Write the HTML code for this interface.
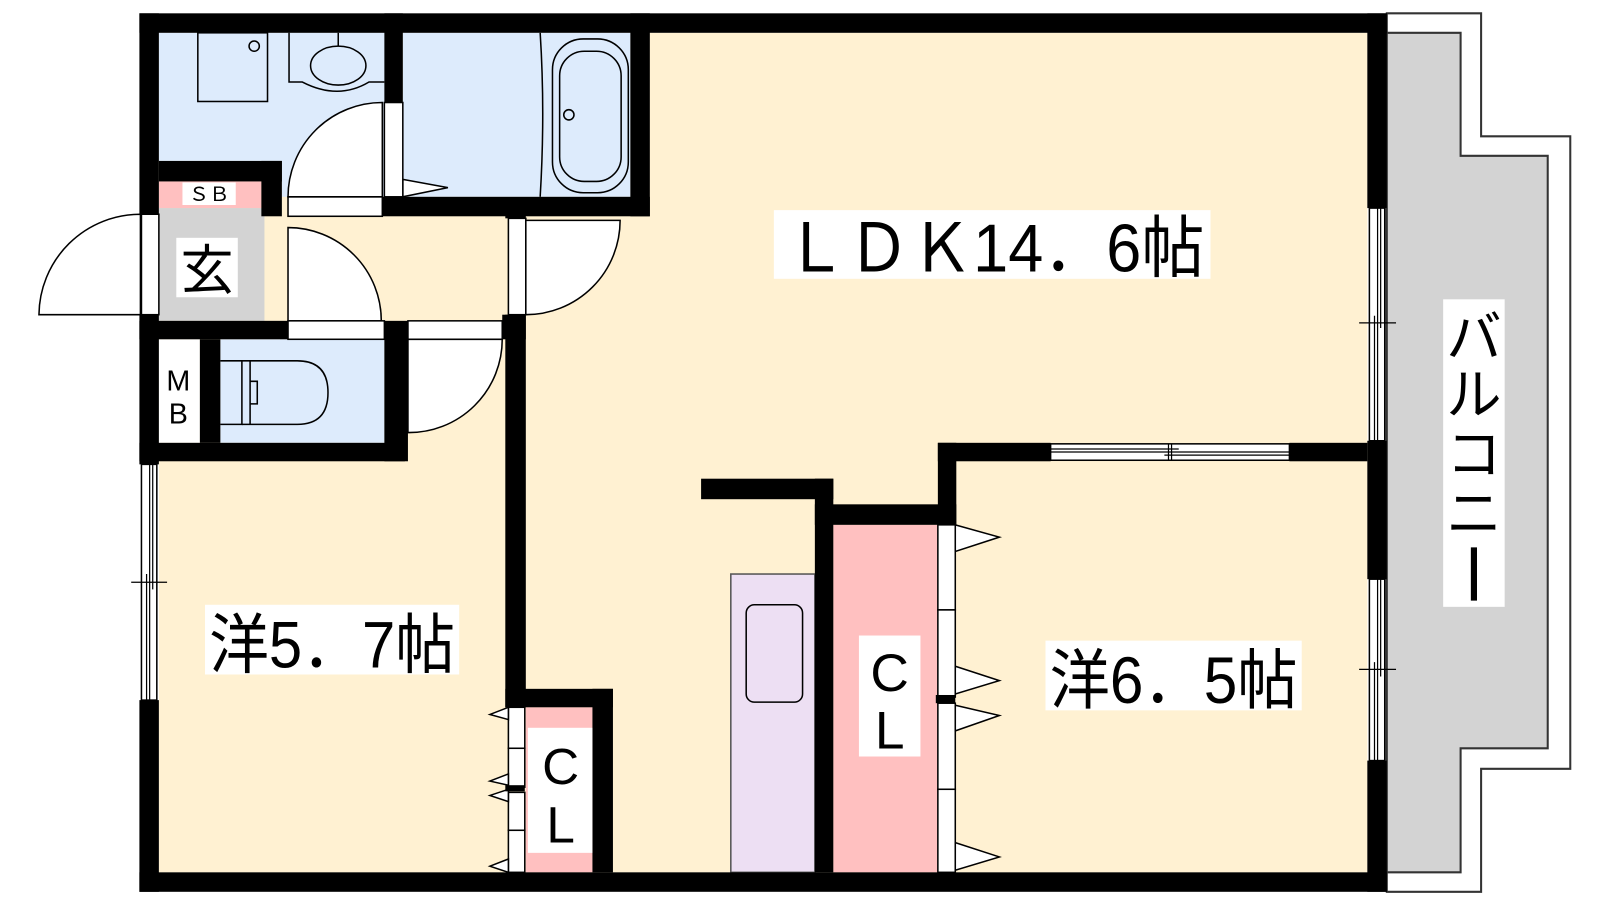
<!DOCTYPE html>
<html><head><meta charset="utf-8"><style>
html,body{margin:0;padding:0;background:#fff;}
svg{display:block;}
text{font-family:"Liberation Sans","Noto Sans CJK JP",sans-serif;}
</style></head><body>
<svg width="1600" height="900" viewBox="0 0 1561 878" preserveAspectRatio="none" xmlns="http://www.w3.org/2000/svg">
<rect width="1561" height="878" fill="#fff"/>
<!-- balcony -->
<polygon points="1353,13 1445,13 1445,133 1532,133 1532,750 1445,750 1445,870 1353,870" fill="#fff" stroke="#333" stroke-width="2"/>
<polygon points="1353,32 1425,32 1425,152 1510,152 1510,730 1425,730 1425,851 1353,851" fill="#d3d3d3" stroke="#333" stroke-width="2"/>
<!-- floor fills -->
<rect x="155" y="32" width="1179" height="819" fill="#fff1d2"/>
<rect x="155" y="32" width="220" height="125" fill="#ddebfc"/>
<rect x="275" y="32" width="100" height="160" fill="#ddebfc"/>
<rect x="393" y="32" width="222" height="160" fill="#ddebfc"/>
<rect x="155" y="177" width="100" height="26" fill="#ffc0c0"/>
<rect x="155" y="203" width="103" height="110" fill="#d3d3d3"/>
<rect x="155" y="331" width="40" height="101" fill="#fff"/>
<rect x="215" y="331" width="160" height="101" fill="#ddebfc"/>
<rect x="813" y="512" width="102" height="339" fill="#ffc0c0"/>
<rect x="513" y="690" width="65" height="161" fill="#ffc0c0"/>
<rect x="713" y="560" width="82" height="291" fill="#eddff3" stroke="#555" stroke-width="1.5"/>
<rect x="728" y="590" width="55" height="95" rx="8" fill="none" stroke="#000" stroke-width="1.5"/>

<!-- fixtures wash -->
<g fill="none" stroke="#000" stroke-width="1.5">
<rect x="193" y="32" width="68" height="67"/>
<circle cx="248" cy="45" r="5"/>
<path d="M282,32 V80 H295 Q330,98 360,80 H375"/>
<ellipse cx="330" cy="64" rx="27" ry="19"/>
<path d="M330,32 V45"/>
<!-- bathtub -->
<path d="M527,32 Q532,110 527,192"/>
<rect x="539" y="38" width="74" height="150" rx="30"/>
<rect x="546" y="50" width="60" height="127" rx="24"/>
<circle cx="555" cy="112" r="5"/>
<!-- toilet -->
<path d="M215,352 H236 V414 H215"/>
<path d="M236,352 H290 Q320,352 320,383 Q320,414 290,414 H236"/>
<path d="M244,352 V414 M244,372 H251 V394 H244"/>
</g>
<!-- triangle in bath -->
<polygon points="393,175 437,183 393,192" fill="#fff" stroke="#000" stroke-width="1.5"/>

<!-- doors -->
<g fill="#fff" stroke="#000" stroke-width="1.5">
<rect x="375" y="100" width="18" height="92"/>
<rect x="281" y="192" width="92" height="19"/>
<path d="M373,192 V100 A92,92 0 0 0 281,192 Z"/>
<rect x="138" y="209" width="17" height="98"/>
<path d="M137,307 H38 A99,99 0 0 1 137,209 Z"/>
<path d="M281,313 V222 A91,91 0 0 1 372,313 Z"/>
<rect x="281" y="313" width="94" height="18"/>
<rect x="398" y="313" width="92" height="18"/>
<path d="M398,331 V422 A91,91 0 0 0 490,331 Z"/>
<rect x="496" y="213" width="17" height="94"/>
<path d="M513,215 H605 A92,92 0 0 1 513,307 Z"/>
<!-- windows -->
<rect x="138" y="453" width="15" height="230"/>
<rect x="1336" y="203" width="15" height="227"/>
<rect x="1336" y="565" width="15" height="177"/>
<rect x="1025" y="433" width="233" height="16"/>
<!-- CL strips -->
<rect x="915" y="512" width="17" height="83"/>
<rect x="915" y="595" width="17" height="85"/>
<rect x="915" y="686" width="17" height="84"/>
<rect x="915" y="770" width="17" height="81"/>
<rect x="496" y="690" width="16" height="40"/>
<rect x="496" y="730" width="16" height="38"/>
<rect x="496" y="773" width="16" height="37"/>
<rect x="496" y="810" width="16" height="41"/>
<polygon points="932,512 975,524 932,538"/>
<polygon points="932,650 975,664 932,677"/>
<polygon points="932,688 975,698 932,713"/>
<polygon points="932,822 975,836 932,849"/>
<polygon points="496,690 478,697 496,702"/>
<polygon points="496,755 478,762 496,766"/>
<polygon points="496,770 478,776 496,782"/>
<polygon points="496,838 478,845 496,851"/>
</g>
<!-- window lines -->
<g stroke="#000" stroke-width="1.2" fill="none">
<path d="M146,453 V683 M143,560 V683 M149,453 V575 M128,568 H163"/>
<path d="M1344,203 V430 M1341,308 V430 M1347,203 V320 M1326,315 H1362"/>
<path d="M1344,565 V742 M1341,646 V742 M1347,565 V660 M1326,653 H1362"/>
<path d="M1025,441 H1258 M1025,438 H1150 M1136,444 H1258 M1143,433 V449 M1140,433 V449"/>
</g>

<!-- walls -->
<g fill="#000">
<rect x="136" y="13" width="1217" height="19"/>
<rect x="136" y="851" width="1217" height="19"/>
<rect x="136" y="13" width="19" height="196"/>
<rect x="136" y="307" width="19" height="146"/>
<rect x="136" y="683" width="19" height="187"/>
<rect x="1334" y="13" width="19" height="190"/>
<rect x="1334" y="430" width="19" height="135"/>
<rect x="1334" y="742" width="19" height="128"/>
<rect x="375" y="13" width="18" height="87"/>
<rect x="615" y="13" width="19" height="198"/>
<rect x="373" y="192" width="261" height="19"/>
<rect x="155" y="157" width="120" height="20"/>
<rect x="255" y="157" width="20" height="54"/>
<rect x="136" y="313" width="145" height="18"/>
<rect x="375" y="313" width="23" height="137"/>
<rect x="195" y="331" width="20" height="101"/>
<rect x="136" y="432" width="259" height="18"/>
<rect x="493" y="205" width="20" height="8"/>
<rect x="490" y="307" width="23" height="24"/>
<rect x="493" y="307" width="20" height="383"/>
<rect x="493" y="672" width="105" height="18"/>
<rect x="578" y="672" width="20" height="179"/>
<rect x="493" y="766" width="19" height="6"/>
<rect x="684" y="467" width="129" height="20"/>
<rect x="795" y="467" width="18" height="384"/>
<rect x="795" y="492" width="138" height="20"/>
<rect x="915" y="432" width="18" height="80"/>
<rect x="915" y="432" width="110" height="18"/>
<rect x="1258" y="432" width="76" height="18"/>
<rect x="913" y="678" width="19" height="8"/>
</g>

<!-- labels -->
<rect x="178" y="178" width="52" height="22" fill="#fff"/>
<text x="204" y="196" font-size="19" text-anchor="middle" textLength="40" lengthAdjust="spacingAndGlyphs">ＳＢ</text>
<rect x="172" y="232" width="60" height="58" fill="#fff"/>
<text x="202" y="282" font-size="52" text-anchor="middle">玄</text>
<rect x="156" y="352" width="36" height="65" fill="#fff"/>
<text x="174" y="381" font-size="28" text-anchor="middle">M</text>
<text x="174" y="413" font-size="28" text-anchor="middle">B</text>
<rect x="755" y="205" width="426" height="67" fill="#fff"/>
<text x="765" y="265" font-size="66" textLength="410" lengthAdjust="spacingAndGlyphs">ＬＤＫ14．6帖</text>
<rect x="200" y="590" width="248" height="68" fill="#fff"/>
<text x="204" y="651" font-size="64" textLength="240" lengthAdjust="spacingAndGlyphs">洋5．7帖</text>
<rect x="1020" y="625" width="250" height="68" fill="#fff"/>
<text x="1024" y="686" font-size="64" textLength="242" lengthAdjust="spacingAndGlyphs">洋6．5帖</text>
<rect x="838" y="620" width="60" height="118" fill="#fff"/>
<text x="868" y="674" font-size="52" text-anchor="middle">C</text>
<text x="868" y="730" font-size="52" text-anchor="middle">L</text>
<rect x="515" y="710" width="63" height="122" fill="#fff"/>
<text x="547" y="765" font-size="50" text-anchor="middle">C</text>
<text x="547" y="822" font-size="50" text-anchor="middle">L</text>
<rect x="1408" y="292" width="60" height="300" fill="#fff"/>
<text x="1438" y="348" font-size="54" text-anchor="middle">バ</text>
<text x="1438" y="404" font-size="54" text-anchor="middle">ル</text>
<text x="1438" y="462" font-size="54" text-anchor="middle">コ</text>
<text x="1438" y="520" font-size="54" text-anchor="middle">ニ</text>
<line x1="1438" y1="534" x2="1438" y2="586" stroke="#000" stroke-width="6"/>
</svg>
</body></html>
